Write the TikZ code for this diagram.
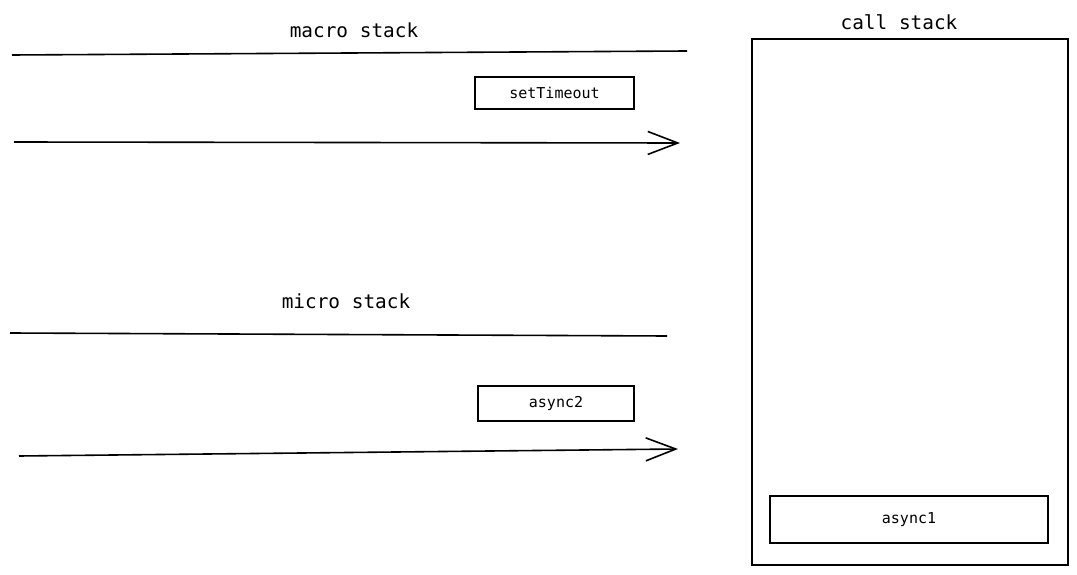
\documentclass[tikz,border=0pt]{standalone}
\usepackage{fontspec}
\setmonofont{DejaVu Sans Mono}
\usetikzlibrary{arrows.meta}
\begin{document}
\begin{tikzpicture}[x=1pt,y=-1pt,
  title/.style={font=\ttfamily\fontsize{19.4}{22}\selectfont, inner sep=0},
  itembox/.style={draw, line width=1.6pt, font=\ttfamily\fontsize{15}{18}\selectfont, inner sep=0},
  rule/.style={line width=1.6pt},
  flow/.style={line width=1.6pt, -{Straight Barb[length=30,width=23,line width=1.6pt]}}]
\useasboundingbox (0,0) rectangle (1077,575);
\fill[white] (0,0) rectangle (1077,575);
% macro stack
\node[title] (macrot) at (354,30) {macro stack};
\coordinate (m1a) at (12,55); \coordinate (m1b) at (687,51);
\draw[rule] (m1a) -- (m1b);
\node[itembox, minimum width=159, minimum height=32] (st) at (554.5,93) {setTimeout};
\coordinate (m2a) at (14,142); \coordinate (m2b) at (680,143);
\draw[flow] (m2a) -- (m2b);
% micro stack
\node[title] (microt) at (346,301) {micro stack};
\coordinate (u1a) at (10,333); \coordinate (u1b) at (667,336);
\draw[rule] (u1a) -- (u1b);
\node[itembox, minimum width=156, minimum height=35] (a2) at (556,403.5) {async2};
\coordinate (u2a) at (19,456); \coordinate (u2b) at (678,449);
\draw[flow] (u2a) -- (u2b);
% call stack
\node[title] (callt) at (899,22) {call stack};
\node[draw, line width=1.6pt, minimum width=316, minimum height=526, inner sep=0] (cs) at (910,302) {};
\node[itembox, minimum width=278, minimum height=47] (a1) at (909,519.5) {async1};
\end{tikzpicture}
\end{document}
